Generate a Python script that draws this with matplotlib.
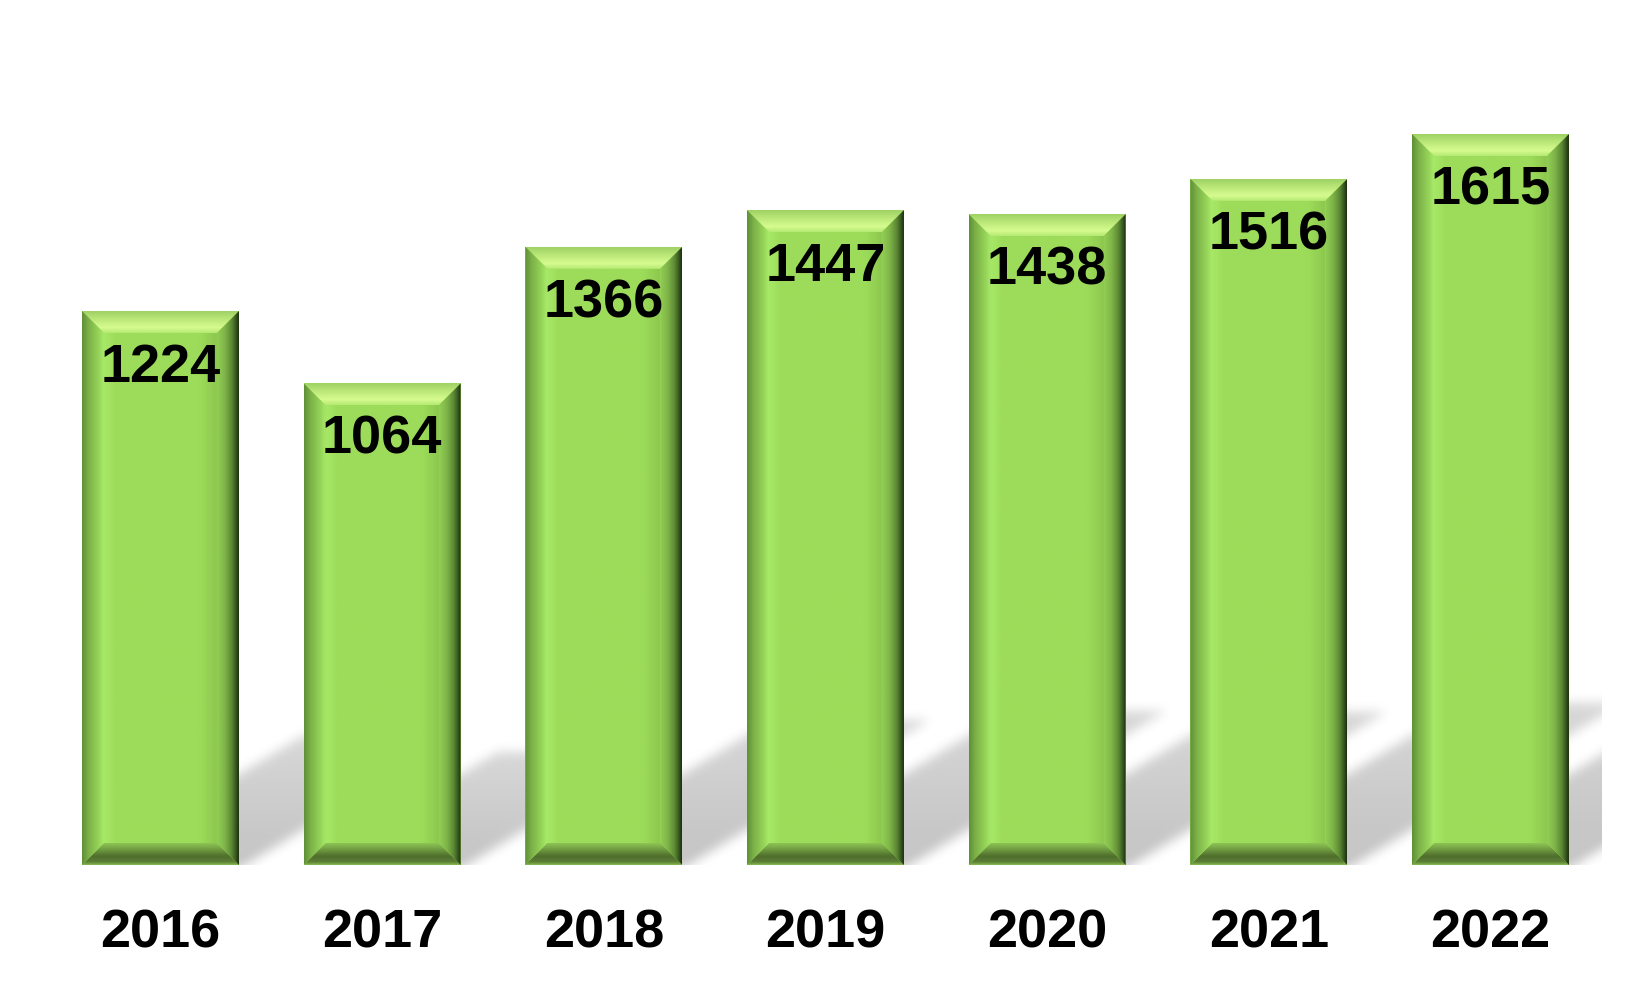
import numpy as np
import matplotlib.pyplot as plt
from matplotlib.patches import Polygon
from matplotlib.colors import to_rgb

plt.rcParams["font.family"] = ["Liberation Sans", "DejaVu Sans"]

years = ["2016", "2017", "2018", "2019", "2020", "2021", "2022"]
counts = [1224, 1064, 1366, 1447, 1438, 1516, 1615]

BAR_WIDTH = 0.708
BEVEL_PX = 22
FACE = "#9ddc5a"
FONT_SIZE = 39


def gradient(stops, n=64):
    pos = [p for p, _ in stops]
    cols = np.array([to_rgb(c) for _, c in stops])
    t = np.linspace(0, 1, n)
    return np.stack([np.interp(t, pos, cols[:, k]) for k in range(3)], axis=-1)


# colour ramps (top/bottom/left: outer -> inner, right: outer is last)
TOP = gradient([(0, "#9fd164"), (0.5, "#c4ef80"), (0.75, "#d6fb90"), (1, "#b6ea74")])
BOTTOM = gradient([(0, "#86b84e"), (0.15, "#5a7d34"), (0.4, "#4f6e2d"), (0.7, "#6e9a40"), (1, "#8dc455")])
LEFT = gradient([(0, "#5f8f37"), (0.3, "#7cb148"), (0.8, "#98d75a"), (1, "#a8e96a")])
RIGHT = gradient([(0, "#92cf55"), (0.35, "#7fb548"), (0.65, "#5f8c36"), (0.85, "#3a5c22"), (1, "#1c2e0e")])
FACE_GRAD = gradient([(0, "#a6e866"), (0.1, "#9ddc5a"), (0.85, "#9ddc5a"), (1, "#8ec94f")])


def blur(img, sigma):
    r = int(3 * sigma)
    k = np.exp(-0.5 * (np.arange(-r, r + 1) / sigma) ** 2)
    k /= k.sum()
    img = np.apply_along_axis(lambda v: np.convolve(v, k, mode="same"), 0, img)
    img = np.apply_along_axis(lambda v: np.convolve(v, k, mode="same"), 1, img)
    return img


fig = plt.figure(figsize=(16.5, 9.9), dpi=100)
ax = fig.add_axes([0.0301, 0.1263, 0.9404, 0.8229])
XLIM = (-0.5, 6.5)
YLIM = (0, 1800)
ax.set_xlim(*XLIM)
ax.set_ylim(*YLIM)

x = np.arange(len(years))
bars = ax.bar(x, counts, BAR_WIDTH, color=FACE, zorder=2)

# pixel -> data sizes
p0 = ax.transData.inverted().transform((0, 0))
p1 = ax.transData.inverted().transform((BEVEL_PX, BEVEL_PX))
bx, by = p1 - p0

# -------------------------
# perspective shadow
# -------------------------
SH_A, SH_B, SH_FADE, PAD = 0.4, 0.24, 0.35, 40
bb = ax.bbox
gx = np.arange(int(bb.x0) - PAD, int(bb.x1) + PAD) + 0.5
gy = np.arange(int(bb.y0) - PAD, int(bb.y1) + PAD) + 0.5
GX, GY = np.meshgrid(gx, gy)
mask = np.zeros_like(GX)
for b in bars:
    (X0, Yb), (X1, Yt) = ax.transData.transform(
        [(b.get_x(), 0), (b.get_x() + b.get_width(), b.get_height())])
    Hp = Yt - Yb
    h = (GY - Yb + 3) / SH_B
    xs = GX - SH_A * h
    inside = (h >= 0) & (h <= Hp) & (xs >= X0) & (xs <= X1)
    val = np.where(inside, 1 - SH_FADE * np.clip(h / Hp, 0, 1), 0)
    mask = np.maximum(mask, val)
mask = blur(mask, 5.5)[PAD:-PAD, PAD:-PAD]
shadow = np.zeros(mask.shape + (4,))
shadow[..., 3] = 0.22 * np.clip(mask * 1.1, 0, 1)
ax.imshow(shadow, extent=(*XLIM, *YLIM), origin="lower", aspect="auto",
          interpolation="bilinear", zorder=1)

# -------------------------
# bevelled bars
# -------------------------
def grad_patch(img, extent, verts, origin="upper"):
    im = ax.imshow(img, extent=extent, origin=origin, aspect="auto",
                   interpolation="bilinear", zorder=3)
    im.set_clip_path(Polygon(verts, closed=True, transform=ax.transData))


for b in bars:
    x0, x1, top = b.get_x(), b.get_x() + b.get_width(), b.get_height()
    ix0, ix1, itop, ibot = x0 + bx, x1 - bx, top - by, by
    grad_patch(FACE_GRAD[None, :, :], (ix0, ix1, ibot, itop),
               [(ix0, ibot), (ix1, ibot), (ix1, itop), (ix0, itop)])
    grad_patch(TOP[:, None, :], (x0, x1, itop, top),
               [(x0, top), (x1, top), (ix1, itop), (ix0, itop)], origin="upper")
    grad_patch(BOTTOM[:, None, :], (x0, x1, 0, ibot),
               [(x0, 0), (x1, 0), (ix1, ibot), (ix0, ibot)], origin="lower")
    grad_patch(LEFT[None, :, :], (x0, ix0, 0, top),
               [(x0, 0), (ix0, ibot), (ix0, itop), (x0, top)])
    grad_patch(RIGHT[None, :, :], (ix1, x1, 0, top),
               [(x1, 0), (ix1, ibot), (ix1, itop), (x1, top)])

for xi, v in zip(x, counts):
    ax.annotate(str(v), (xi, v), xytext=(0, -50.8), textcoords="offset points",
                ha="center", va="baseline", fontsize=FONT_SIZE, fontweight="bold",
                color="black", zorder=5)

ax.set_xticks(x, years, fontsize=FONT_SIZE, fontweight="bold")
ax.tick_params(axis="x", length=0, pad=31)
ax.set_yticks([])
for s in ax.spines.values():
    s.set_visible(False)

ax.set_xlim(*XLIM)
ax.set_ylim(*YLIM)
fig.savefig("out.png", dpi=100)
